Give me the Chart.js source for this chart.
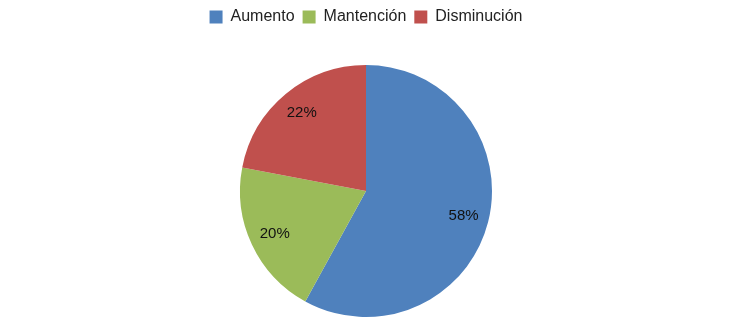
<!DOCTYPE html>
<html>
<head>
<meta charset="utf-8">
<script src="https://cdn.jsdelivr.net/npm/chart.js@4"></script>
<style>
  html, body { margin:0; padding:0; background:#fff; }
  #wrap { width:746px; height:321px; position:relative; }
</style>
</head>
<body>
<div id="wrap"><canvas id="pieChart"></canvas></div>
<script>
const categories = ['Aumento', 'Mantención', 'Disminución'];
const percentages = [58, 20, 22];
const sliceColors = ['#4F81BD', '#9BBB59', '#C0504D'];

// percent labels drawn inside each slice
const sliceLabels = {
  id: 'sliceLabels',
  afterDatasetsDraw(chart) {
    const ctx = chart.ctx;
    const meta = chart.getDatasetMeta(0);
    ctx.save();
    ctx.font = '15px "Liberation Sans", Arial, sans-serif';
    ctx.fillStyle = '#111';
    ctx.textAlign = 'center';
    ctx.textBaseline = 'middle';
    meta.data.forEach((arc, i) => {
      const p = arc.getProps(['x', 'y', 'startAngle', 'endAngle', 'outerRadius'], true);
      const mid = (p.startAngle + p.endAngle) / 2;
      const r = p.outerRadius * 0.8;
      ctx.fillText(percentages[i] + '%', p.x + Math.cos(mid) * r, p.y + Math.sin(mid) * r);
    });
    ctx.restore();
  }
};

// extra space under the legend
const legendGap = {
  id: 'legendGap',
  beforeInit(chart) {
    const fit = chart.legend.fit;
    chart.legend.fit = function () {
      fit.bind(chart.legend)();
      this.height += 30;
    };
  }
};

const ctx = document.getElementById('pieChart').getContext('2d');
new Chart(ctx, {
  type: 'pie',
  data: {
    labels: categories,
    datasets: [{ data: percentages, backgroundColor: sliceColors, borderWidth: 0 }]
  },
  options: {
    responsive: true,
    maintainAspectRatio: false,
    animation: false,
    layout: { padding: { left: 0, right: 14, top: 1, bottom: 4 } },
    plugins: {
      legend: {
        position: 'top',
        labels: {
          font: { family: '"Liberation Sans", Arial, sans-serif', size: 16 },
          color: '#222',
          boxWidth: 13,
          boxHeight: 13,
          padding: 8
        }
      },
      tooltip: { enabled: false }
    }
  },
  plugins: [sliceLabels, legendGap]
});
</script>
</body>
</html>
